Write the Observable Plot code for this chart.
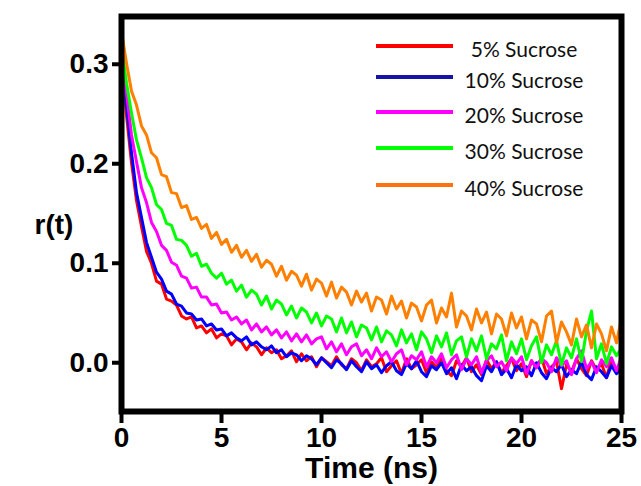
<!DOCTYPE html>
<html>
<head>
<meta charset="utf-8">
<script src="https://cdn.jsdelivr.net/npm/d3@7"></script>
<script src="https://cdn.jsdelivr.net/npm/@observablehq/plot@0.6"></script>
<style>
  html, body { margin: 0; padding: 0; background: #fff; }
  #wrap { position: relative; width: 641px; height: 486px; overflow: hidden; }
  .leg-line { position: absolute; height: 4px; }
  .leg-text { position: absolute; transform: translate(-50%, -50%); font-family: Lato, "Open Sans", sans-serif; font-size: 21px; color: #111; white-space: nowrap; }
</style>
</head>
<body>
<div id="wrap"></div>
<script>
const seriesNames = ["5% Sucrose", "10% Sucrose", "20% Sucrose", "30% Sucrose", "40% Sucrose"];
const lineColors = ["#ff0000", "#0000ff", "#ff00ff", "#00ff00", "#ff8000"];
const legendColors = ["#ff0000", "#1414a8", "#ff00ff", "#00ff00", "#ff7010"];
const xTicks = [0, 5, 10, 15, 20, 25];
const yTicks = [0.0, 0.1, 0.2, 0.3];

const time = [
  0, 0.25, 0.5, 0.75, 1, 1.25, 1.5, 1.75, 2, 2.25, 2.5, 2.75, 3, 3.25, 3.5, 3.75, 4, 4.25, 4.5, 4.75,
  5, 5.25, 5.5, 5.75, 6, 6.25, 6.5, 6.75, 7, 7.25, 7.5, 7.75, 8, 8.25, 8.5, 8.75, 9, 9.25, 9.5, 9.75,
  10, 10.25, 10.5, 10.75, 11, 11.25, 11.5, 11.75, 12, 12.25, 12.5, 12.75, 13, 13.25, 13.5, 13.75, 14, 14.25, 14.5, 14.75,
  15, 15.25, 15.5, 15.75, 16, 16.25, 16.5, 16.75, 17, 17.25, 17.5, 17.75, 18, 18.25, 18.5, 18.75, 19, 19.25, 19.5, 19.75,
  20, 20.25, 20.5, 20.75, 21, 21.25, 21.5, 21.75, 22, 22.25, 22.5, 22.75, 23, 23.25, 23.5, 23.75, 24, 24.25, 24.5, 24.75, 25
];

const sucrose5 = [
  0.306, 0.249, 0.201, 0.163, 0.137, 0.112, 0.100, 0.082, 0.079, 0.064, 0.062, 0.058, 0.047, 0.044, 0.046, 0.035, 0.037, 0.030, 0.034, 0.025,
  0.029, 0.027, 0.018, 0.024, 0.021, 0.013, 0.020, 0.016, 0.008, 0.015, 0.010, 0.013, 0.004, 0.007, 0.012, 0.001, 0.009, 0.002, 0.006, -0.004,
  0.005, 0.001, -0.003, 0.006, -0.002, -0.006, 0.004, 0.000, -0.008, 0.003, -0.004, -0.001, 0.005, -0.009, -0.003, 0.002, -0.011, 0.004, -0.006, -0.002,
  0.003, -0.010, 0.001, -0.005, 0.006, -0.008, -0.013, 0.002, -0.004, 0.005, -0.009, -0.002, -0.012, 0.003, -0.006, 0.001, -0.010, -0.003, 0.004, -0.008,
  -0.001, -0.014, 0.002, -0.005, 0.005, -0.011, -0.004, 0.001, -0.026, -0.002, -0.009, 0.004, -0.006, -0.013, 0.002, -0.007, -0.001, -0.015, 0.003, -0.008, -0.004
];
const sucrose10 = [
  0.323, 0.259, 0.211, 0.171, 0.146, 0.121, 0.106, 0.091, 0.084, 0.072, 0.069, 0.059, 0.057, 0.050, 0.049, 0.043, 0.044, 0.037, 0.039, 0.033,
  0.034, 0.027, 0.030, 0.025, 0.022, 0.026, 0.018, 0.021, 0.016, 0.013, 0.017, 0.010, 0.013, 0.006, 0.010, 0.008, 0.002, 0.007, 0.004, -0.002,
  0.005, 0.000, -0.005, 0.003, -0.001, -0.007, 0.002, -0.004, -0.009, 0.001, -0.006, -0.002, -0.010, -0.003, 0.001, -0.008, -0.012, -0.001, -0.006, 0.002,
  -0.009, -0.014, -0.003, -0.007, 0.000, -0.011, -0.005, -0.016, -0.002, -0.008, -0.004, -0.013, -0.018, -0.003, -0.009, 0.001, -0.012, -0.006, -0.015, -0.002,
  -0.008, -0.004, -0.013, 0.000, -0.010, -0.016, -0.005, -0.009, -0.002, -0.014, -0.007, -0.011, 0.001, -0.012, -0.017, -0.004, -0.009, -0.015, -0.003, -0.011, -0.006
];
const sucrose20 = [
  0.311, 0.271, 0.229, 0.202, 0.176, 0.161, 0.141, 0.132, 0.118, 0.113, 0.101, 0.098, 0.087, 0.085, 0.075, 0.076, 0.066, 0.066, 0.058, 0.059,
  0.050, 0.051, 0.043, 0.046, 0.039, 0.043, 0.033, 0.039, 0.031, 0.036, 0.028, 0.033, 0.025, 0.031, 0.022, 0.029, 0.021, 0.028, 0.019, 0.024,
  0.026, 0.014, 0.021, 0.011, 0.019, 0.008, 0.016, 0.019, 0.007, 0.013, 0.004, 0.015, 0.006, 0.011, 0.001, 0.009, 0.013, -0.002, 0.007, 0.003,
  0.011, -0.004, 0.006, 0.000, 0.009, -0.005, 0.003, 0.008, -0.007, 0.004, -0.002, 0.006, -0.010, 0.002, 0.007, -0.004, 0.001, -0.008, 0.005, -0.001,
  0.006, -0.011, 0.002, -0.005, 0.004, 0.000, -0.009, 0.005, -0.003, 0.002, -0.012, 0.004, 0.012, -0.006, 0.001, -0.010, 0.003, -0.004, 0.005, -0.008, 0.006
];
const sucrose30 = [
  0.319, 0.281, 0.251, 0.224, 0.206, 0.186, 0.176, 0.159, 0.154, 0.140, 0.138, 0.124, 0.123, 0.118, 0.107, 0.110, 0.097, 0.099, 0.090, 0.085,
  0.090, 0.079, 0.083, 0.072, 0.078, 0.066, 0.073, 0.069, 0.058, 0.067, 0.054, 0.063, 0.059, 0.048, 0.057, 0.045, 0.055, 0.051, 0.040, 0.050,
  0.037, 0.047, 0.044, 0.031, 0.045, 0.030, 0.041, 0.026, 0.038, 0.035, 0.023, 0.036, 0.021, 0.032, 0.028, 0.017, 0.033, 0.020, 0.029, 0.013,
  0.031, 0.024, 0.010, 0.027, 0.016, 0.030, 0.008, 0.022, 0.026, 0.006, 0.024, 0.012, 0.027, 0.004, 0.019, 0.014, 0.028, 0.002, 0.021, 0.009,
  0.024, 0.003, 0.017, 0.026, 0.000, 0.018, 0.008, 0.022, -0.002, 0.015, 0.005, 0.024, 0.001, 0.032, 0.052, 0.004, 0.019, -0.001, 0.016, 0.007, 0.015
];
const sucrose40 = [
  0.333, 0.301, 0.273, 0.259, 0.238, 0.229, 0.211, 0.206, 0.189, 0.187, 0.171, 0.170, 0.156, 0.158, 0.144, 0.146, 0.135, 0.139, 0.125, 0.131,
  0.119, 0.124, 0.111, 0.118, 0.106, 0.113, 0.102, 0.109, 0.096, 0.103, 0.099, 0.087, 0.097, 0.083, 0.092, 0.088, 0.077, 0.089, 0.073, 0.084,
  0.080, 0.067, 0.081, 0.065, 0.076, 0.071, 0.058, 0.072, 0.061, 0.070, 0.052, 0.066, 0.063, 0.049, 0.067, 0.054, 0.062, 0.045, 0.060, 0.056,
  0.042, 0.058, 0.063, 0.040, 0.055, 0.046, 0.070, 0.036, 0.052, 0.047, 0.033, 0.054, 0.040, 0.051, 0.029, 0.049, 0.044, 0.027, 0.050, 0.035,
  0.046, 0.024, 0.043, 0.039, 0.021, 0.047, 0.052, 0.020, 0.041, 0.031, 0.018, 0.044, 0.026, 0.038, 0.015, 0.039, 0.029, 0.012, 0.036, 0.020, 0.045
];

const seriesValues = [sucrose5, sucrose10, sucrose20, sucrose30, sucrose40];
const rows = [];
seriesValues.forEach((vals, k) => {
  vals.forEach((v, i) => rows.push({t: time[i], r: v, s: seriesNames[k]}));
});

const boldText = {fontSize: 28, fontWeight: "bold", fontFamily: "'Liberation Sans', Arial, sans-serif", fill: "#000"};

const chart = Plot.plot({
  width: 641,
  height: 486,
  marginLeft: 121,
  marginRight: 20,
  marginTop: 16,
  marginBottom: 75,
  x: {domain: [0, 25]},
  y: {domain: [-0.049, 0.348]},
  color: {domain: seriesNames, range: lineColors},
  style: {background: "white", fontFamily: "'Liberation Sans', Arial, sans-serif", overflow: "visible"},
  marks: [
    Plot.lineY(rows, {x: "t", y: "r", z: "s", stroke: "s", strokeWidth: 3}),
    Plot.frame({stroke: "black", strokeWidth: 6}),
    Plot.axisX({ticks: xTicks, tickSize: 12, tickPadding: 4, strokeWidth: 4, label: null, ...boldText}),
    Plot.axisY({ticks: yTicks, tickSize: 9, tickPadding: 4, strokeWidth: 4, label: null, tickFormat: d => d.toFixed(1), ...boldText}),
    Plot.text(["Time (ns)"], {text: d => d, frameAnchor: "bottom", dy: 66, ...boldText, fontSize: 30}),
    Plot.text(["r(t)"], {text: d => d, frameAnchor: "left", dx: -87, dy: 11, ...boldText})
  ]
});

const wrap = document.getElementById("wrap");
wrap.appendChild(chart);

// legend overlay (layout positions)
const legendLayout = [
  {lineY: 46, textY: 48, textX: 524},
  {lineY: 77, textY: 79, textX: 524},
  {lineY: 112, textY: 114, textX: 524},
  {lineY: 148, textY: 150, textX: 524},
  {lineY: 185, textY: 187, textX: 524}
];
seriesNames.forEach((name, k) => {
  const L = legendLayout[k];
  const ln = document.createElement("div");
  ln.className = "leg-line";
  ln.style.left = "376px";
  ln.style.width = "77px";
  ln.style.top = (L.lineY - 2) + "px";
  ln.style.background = legendColors[k];
  wrap.appendChild(ln);
  const tx = document.createElement("div");
  tx.className = "leg-text";
  tx.style.left = L.textX + "px";
  tx.style.top = L.textY + "px";
  tx.textContent = name;
  wrap.appendChild(tx);
});
</script>
</body>
</html>
